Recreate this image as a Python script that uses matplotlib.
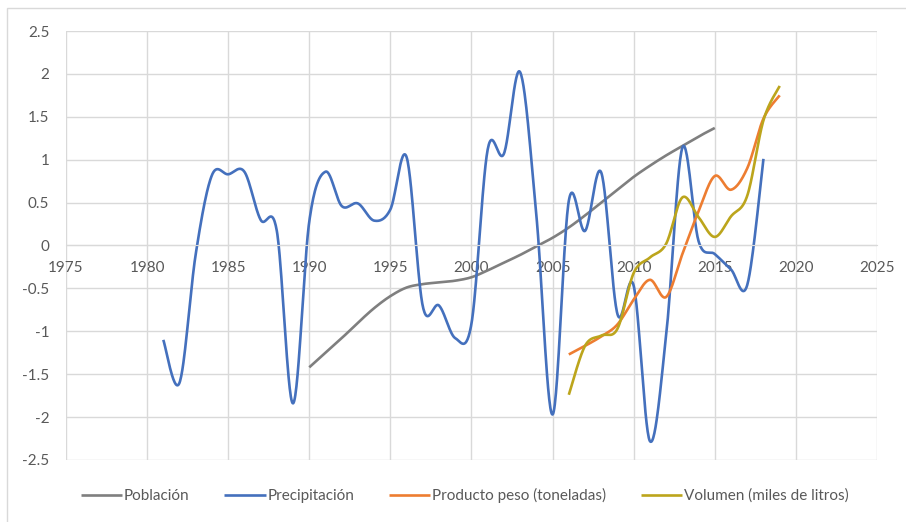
import numpy as np
import matplotlib.pyplot as plt
from matplotlib.patches import Rectangle

# yearly series (standardised values)
pob_years = list(range(1990, 2016))
poblacion = [-1.42, -1.25, -1.08, -0.90, -0.73, -0.59, -0.49, -0.45, -0.43, -0.41,
             -0.37, -0.29, -0.20, -0.11, -0.01, 0.09, 0.21, 0.35, 0.50, 0.65,
             0.80, 0.93, 1.05, 1.16, 1.27, 1.37]

pre_years = list(range(1981, 2019))
precipitacion = [-1.10, -1.60, -0.10, 0.82, 0.83, 0.86, 0.30, 0.17, -1.84, 0.28,
                 0.86, 0.46, 0.49, 0.29, 0.42, 1.03, -0.71, -0.70, -1.08, -0.91,
                 1.12, 1.07, 2.02, 0.35, -1.97, 0.52, 0.17, 0.85, -0.80, -0.47,
                 -2.28, -1.05, 1.14, 0.05, -0.10, -0.28, -0.46, 1.01]

prod_years = list(range(2006, 2020))
producto = [-1.27, -1.17, -1.06, -0.92, -0.63, -0.40, -0.60, -0.10, 0.40, 0.81,
            0.65, 0.90, 1.48, 1.75]

vol_years = list(range(2006, 2020))
volumen = [-1.74, -1.17, -1.05, -0.97, -0.32, -0.14, 0.02, 0.56, 0.33, 0.10,
           0.34, 0.58, 1.46, 1.86]

series = [
    ("Población", pob_years, poblacion, "#7f7f7f"),
    ("Precipitación", pre_years, precipitacion, "#4470bd"),
    ("Producto peso (toneladas)", prod_years, producto, "#ed7d31"),
    ("Volumen (miles de litros)", vol_years, volumen, "#bca51c"),
]


def smooth(x, y, n=30):
    # cubic Bezier through the points, control points from neighbours (Catmull-Rom)
    p = np.column_stack([x, y]).astype(float)
    pad = np.vstack([p[0], p, p[-1]])
    t = np.linspace(0, 1, n)[:, None]
    out = []
    for i in range(len(p) - 1):
        p0, p1, p2, p3 = pad[i], pad[i + 1], pad[i + 2], pad[i + 3]
        c1 = p1 + (p2 - p0) / 6.0
        c2 = p2 - (p3 - p1) / 6.0
        seg = ((1 - t) ** 3) * p1 + 3 * ((1 - t) ** 2) * t * c1 \
            + 3 * (1 - t) * t ** 2 * c2 + t ** 3 * p2
        out.append(seg if i == 0 else seg[1:])
    out = np.vstack(out)
    return out[:, 0], out[:, 1]


plt.rcParams['font.family'] = ['Lato', 'DejaVu Sans']
text_col = "#595959"
grid_col = "#d9d9d9"

fig = plt.figure(figsize=(9.06, 5.22), dpi=100)
ax = fig.add_axes([0.0728, 0.1188, 0.8952, 0.8218])

for name, xs, ys, col in series:
    sx, sy = smooth(xs, ys)
    ax.plot(sx, sy, color=col, lw=1.9, label=name, solid_capstyle='butt')

ax.set_xlim(1975, 2025)
ax.set_ylim(-2.5, 2.5)
ax.set_xticks(np.arange(1975, 2026, 5))
ax.set_yticks(np.arange(-2.5, 2.51, 0.5))
ax.set_yticklabels(["-2.5", "-2", "-1.5", "-1", "-0.5", "0", "0.5", "1", "1.5", "2", "2.5"])
ax.grid(True, color=grid_col, lw=1.0)
ax.set_axisbelow(True)

for s in ("top", "right", "left"):
    ax.spines[s].set_visible(False)
ax.spines["bottom"].set_position(("data", 0))
ax.spines["bottom"].set_color(grid_col)
ax.tick_params(axis="both", length=0, colors=text_col, labelsize=11)
ax.tick_params(axis="y", pad=12)
ax.tick_params(axis="x", pad=11)

# light frame of the chart area
fig.patches.append(Rectangle((7 / 906, -0.1), 1.2, 1 - 8 / 522 + 0.1,
                             transform=fig.transFigure, fill=False,
                             edgecolor=grid_col, lw=1.0))

fig.legend(loc="lower center", bbox_to_anchor=(0.513, 0.01), ncol=4,
           frameon=False, fontsize=11, labelcolor=text_col,
           handlelength=2.7, handletextpad=0.1, columnspacing=2.3)

fig.savefig("out.png", dpi=100)
